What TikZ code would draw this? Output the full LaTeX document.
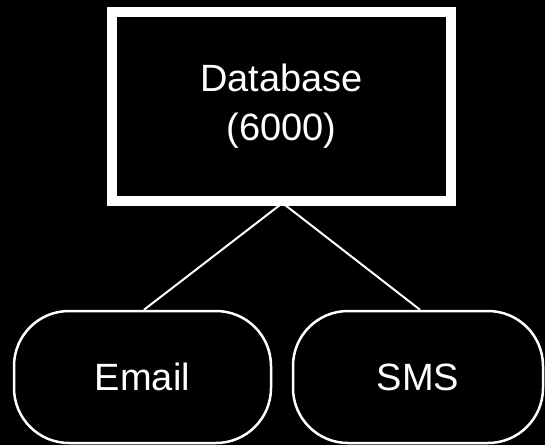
\documentclass[tikz,border=0pt]{standalone}
\usepackage{fontspec}
\setmainfont{Liberation Sans}
\begin{document}
\begin{tikzpicture}[x=1pt,y=-1pt,
  txt/.style={text=white,font=\fontsize{38}{49}\selectfont},
  dbbox/.style={draw=white,fill=black,line width=10pt,minimum width=339pt,minimum height=189pt,outer sep=0pt,inner sep=0pt,txt,align=center},
  chan/.style={draw=white,fill=black,line width=2.5pt,rounded corners=55pt,minimum height=132pt,inner sep=0pt,txt},
  link/.style={draw=white,line width=2pt}]
\fill[black] (0,0) rectangle (545,445);
\useasboundingbox (0,0) rectangle (545,445);
\node[dbbox] (db) at (281.5,106) {Database\\(6000)};
\node[chan,minimum width=257pt] (email) at (142.5,377) {Email};
\node[chan,minimum width=250pt] (sms) at (418,377) {SMS};
\coordinate (dbs) at (282.5,203);
\draw[link] (dbs) -- (email.north -| 144,0);
\draw[link] (dbs) -- (sms.north -| 420,0);
\end{tikzpicture}
\end{document}
